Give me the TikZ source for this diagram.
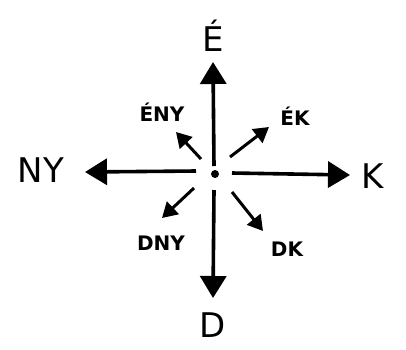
\documentclass[tikz,border=0pt]{standalone}
\usepackage{fontspec}
\setmainfont{DejaVu Sans}
\usetikzlibrary{arrows.meta}
\tikzset{
  mainarrow/.style={line width=3.6pt, -{Triangle[length=22pt,width=26pt]}},
  diagarrow/.style={line width=3pt, -{Triangle[length=15pt,width=17pt]}},
  biglabel/.style={font=\fontsize{34}{34}\selectfont, inner sep=0pt},
  smalllabel/.style={font=\bfseries\fontsize{20}{20}\selectfont, inner sep=0pt},
}
\begin{document}
\begin{tikzpicture}[x=1pt,y=-1pt]
\useasboundingbox (0,0) rectangle (406,349);
\fill[white] (0,0) rectangle (406,349);
% center dot
\fill (215,174) circle (4);
% coordinates
\coordinate (nS) at (214,166);
\coordinate (nT) at (213,62);
\coordinate (sS) at (214,190);
\coordinate (sT) at (213,298);
\coordinate (wS) at (196,171);
\coordinate (wT) at (85,172);
\coordinate (eS) at (232,173);
\coordinate (eT) at (350,175);
\coordinate (nwS) at (201,159);
\coordinate (nwT) at (176,132);
\coordinate (neS) at (230,157);
\coordinate (neT) at (269,127);
\coordinate (swS) at (194,188);
\coordinate (swT) at (162,218);
\coordinate (seS) at (232,192);
\coordinate (seT) at (263,231);
% labels
\node[biglabel] (N) at (213,36) {É};
\node[biglabel] (S) at (213,325) {D};
\node[biglabel] (W) at (41,170) {NY};
\node[biglabel] (E) at (373,176) {K};
\node[smalllabel] (NW) at (162,112) {ÉNY};
\node[smalllabel] (NE) at (295,116) {ÉK};
\node[smalllabel] (SW) at (161,243) {DNY};
\node[smalllabel] (SE) at (287,249) {DK};
% arrows
\draw[mainarrow] (nS) -- (nT);
\draw[mainarrow] (sS) -- (sT);
\draw[mainarrow] (wS) -- (wT);
\draw[mainarrow] (eS) -- (eT);
\draw[diagarrow] (nwS) -- (nwT);
\draw[diagarrow] (neS) -- (neT);
\draw[diagarrow] (swS) -- (swT);
\draw[diagarrow] (seS) -- (seT);
\end{tikzpicture}
\end{document}
